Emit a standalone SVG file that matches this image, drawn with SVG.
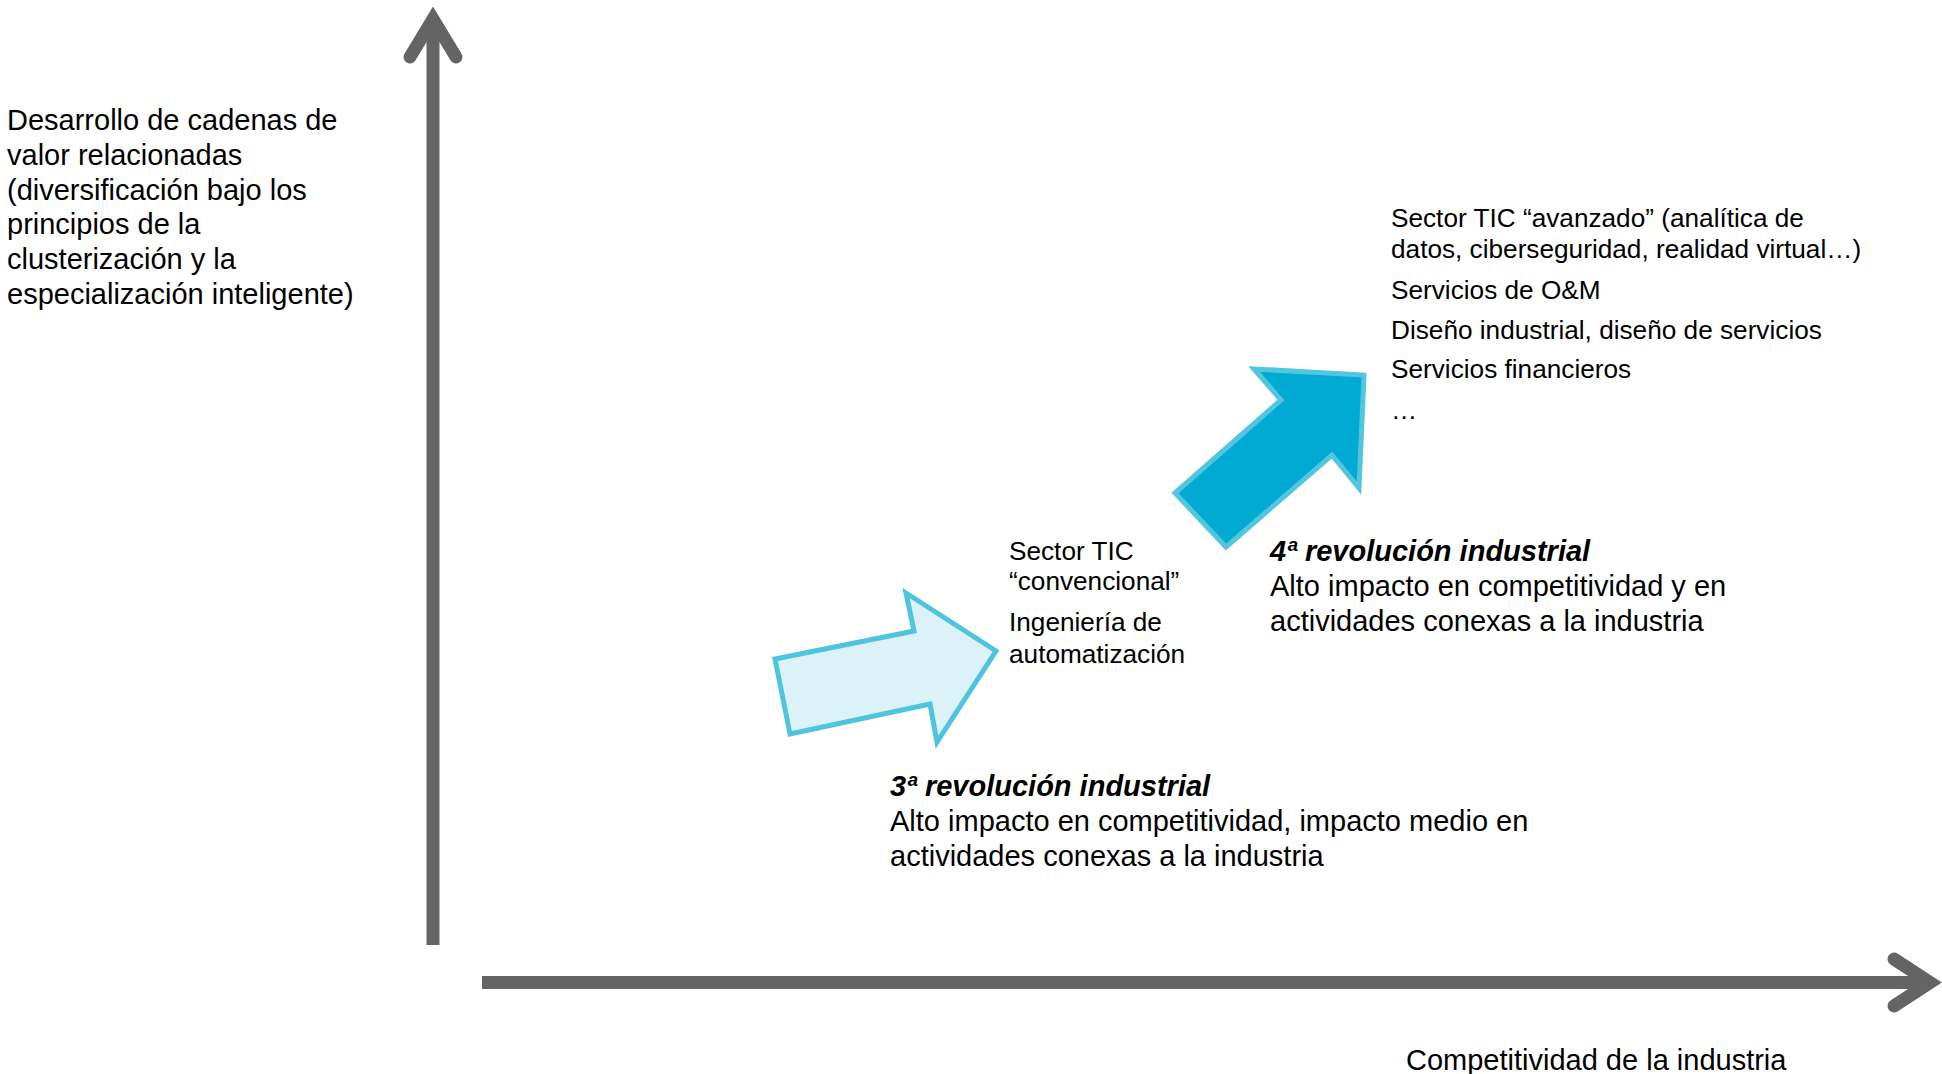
<svg xmlns="http://www.w3.org/2000/svg" width="1942" height="1074" viewBox="0 0 1942 1074">
<style>
  .t { font-family: "Liberation Sans", Arial, sans-serif; fill: #000; }
  .f29 { font-size: 29px; }
  .f26 { font-size: 26.2px; }
  .bi { font-weight: bold; font-style: italic; }
  .axis { stroke: #646464; stroke-width: 13; fill: none; }
  .head { stroke: #646464; stroke-width: 13; fill: none; stroke-linecap: round; stroke-linejoin: miter; }
</style>
<rect width="1942" height="1074" fill="#fff"/>

<g id="connectors">
  <line class="axis" x1="433" y1="945" x2="433" y2="20"/>
  <polyline class="head" points="410,57 433,19 456,57"/>
  <line class="axis" x1="482" y1="982.5" x2="1928" y2="982.5"/>
  <polyline class="head" points="1894,959 1930,982.5 1894,1006"/>
</g>

<g id="arrow3">
  <polygon points="775,659 914,631 906,593 996,651 937,742 930,704 790,734" fill="#DBF2F8" stroke="#4EC4DE" stroke-width="5" stroke-linejoin="miter"/>
</g>

<g id="arrow4">
  <polygon points="1254,369 1364,375 1359,488 1332,455 1226,547 1175,493 1281,400" fill="#00AAD2" stroke="#52C5DF" stroke-width="5" stroke-linejoin="miter"/>
</g>

<g id="yaxis-label">
  <text class="t f29" x="7" y="130">Desarrollo de cadenas de</text>
  <text class="t f29" x="7" y="164.8">valor relacionadas</text>
  <text class="t f29" x="7" y="199.6">(diversificación bajo los</text>
  <text class="t f29" x="7" y="234.4">principios de la</text>
  <text class="t f29" x="7" y="269.2">clusterización y la</text>
  <text class="t f29" x="7" y="304">especialización inteligente)</text>
</g>

<g id="xaxis-label">
  <text class="t f29" x="1406" y="1070">Competitividad de la industria</text>
</g>

<g id="sectors4">
  <text class="t f26" x="1391" y="227">Sector TIC “avanzado” (analítica de</text>
  <text class="t f26" x="1391" y="258">datos, ciberseguridad, realidad virtual…)</text>
  <text class="t f26" x="1391" y="299">Servicios de O&amp;M</text>
  <text class="t f26" x="1391" y="339">Diseño industrial, diseño de servicios</text>
  <text class="t f26" x="1391" y="378">Servicios financieros</text>
  <text class="t f26" x="1391" y="419">…</text>
</g>

<g id="sectors3">
  <text class="t f26" x="1009" y="560">Sector TIC</text>
  <text class="t f26" x="1009" y="590">“convencional”</text>
  <text class="t f26" x="1009" y="631">Ingeniería de</text>
  <text class="t f26" x="1009" y="663">automatización</text>
</g>

<g id="rev4">
  <text class="t f29 bi" x="1270" y="561">4ª revolución industrial</text>
  <text class="t f29" x="1270" y="596">Alto impacto en competitividad y en</text>
  <text class="t f29" x="1270" y="631">actividades conexas a la industria</text>
</g>

<g id="rev3">
  <text class="t f29 bi" x="890" y="796">3ª revolución industrial</text>
  <text class="t f29" x="890" y="831">Alto impacto en competitividad, impacto medio en</text>
  <text class="t f29" x="890" y="866">actividades conexas a la industria</text>
</g>
</svg>
